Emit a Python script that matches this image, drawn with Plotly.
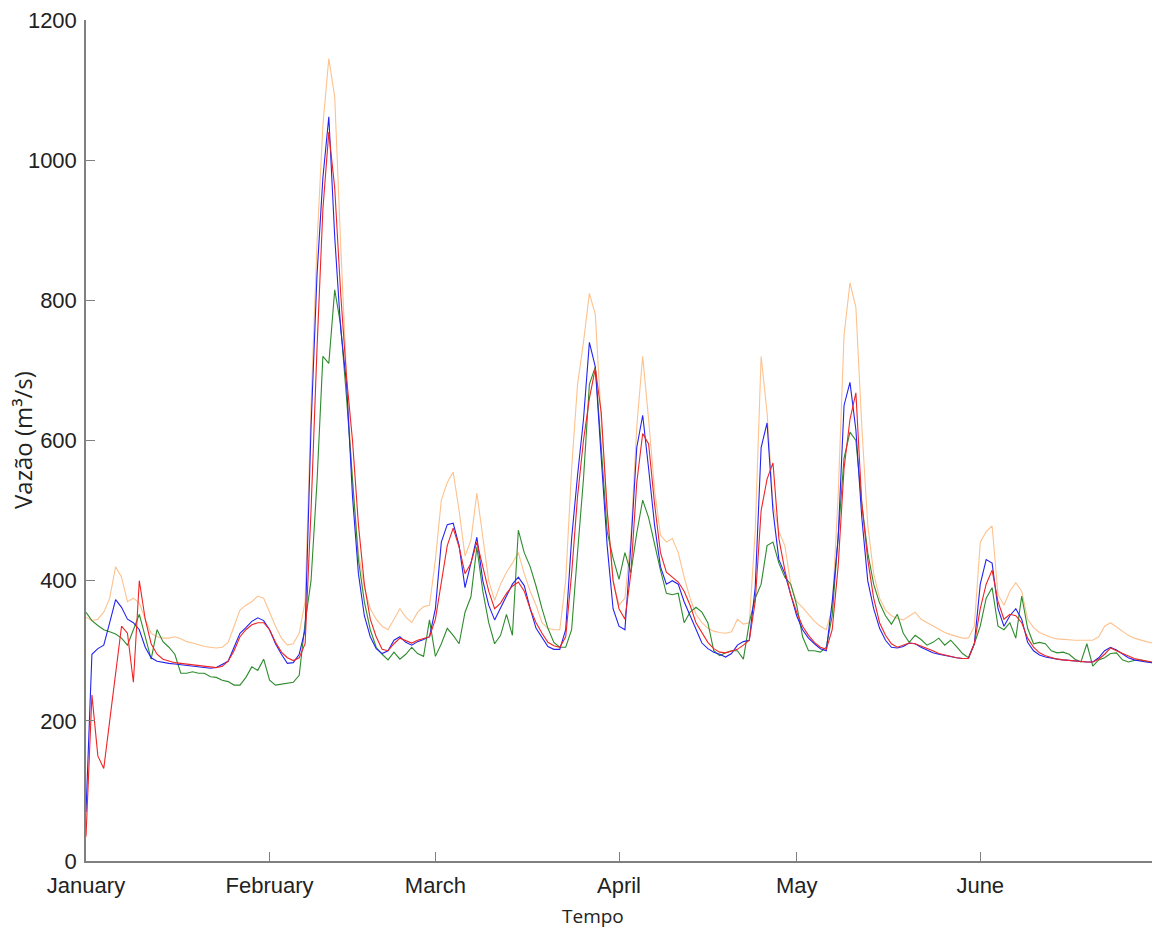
import pandas as pd
import plotly.graph_objects as go

start_date = "2013-01-01"
n_days = 181

month_ticks = ["2013-01-01", "2013-02-01", "2013-03-01", "2013-04-01", "2013-05-01", "2013-06-01"]
month_labels = ["January", "February", "March", "April", "May", "June"]
y_ticks = [0, 200, 400, 600, 800, 1000, 1200]

orange_vals = [
    348, 343, 345, 355, 375, 420, 405, 370, 375, 368, 345, 325, 320, 318, 318, 320, 317, 313, 311, 308,
    306, 305, 304, 305, 312, 335, 358, 365, 370, 378, 375, 355, 335, 318, 308, 310, 325, 370, 650, 880,
    1050, 1145, 1090, 880, 690, 540, 440, 390, 360, 345, 335, 330, 345, 360, 348, 340, 355, 363, 365, 430,
    515, 540, 555, 500, 435, 458, 525, 460, 400, 372, 395, 412, 425, 440, 410, 385, 365, 340, 332, 330,
    330, 400, 560, 680, 740, 810, 780, 630, 500, 400, 365, 375, 460, 620, 720, 630, 530, 465, 455, 460,
    440, 405, 375, 352, 340, 332, 328, 326, 325, 327, 345, 338, 340, 470, 720, 640, 510, 470, 450, 395,
    370, 362, 352, 342, 335, 330, 360, 520, 750, 825, 790, 620, 480, 410, 375, 358, 350, 346, 344, 350,
    355, 345, 340, 335, 330, 326, 323, 320, 318, 318, 335, 455, 470, 478, 380, 365, 385, 397, 385, 345,
    333, 326, 322, 319, 317, 316, 315, 315, 315, 315, 315, 320, 335, 340, 334, 327, 322, 318, 315, 313,
    311,
]

green_vals = [
    355, 343, 336, 330, 327, 324, 318, 308, 330, 352, 320, 288, 330, 313, 305, 295, 268, 268, 270, 268,
    268, 263, 262, 258, 256, 251, 251, 262, 277, 272, 288, 258, 251, 252, 254, 255, 265, 340, 400, 540,
    720, 710, 815, 765, 660, 540, 430, 370, 330, 305, 295, 287, 298, 288, 295, 305, 296, 292, 344, 292,
    310, 332, 322, 310, 355, 377, 448, 385, 340, 310, 322, 352, 322, 472, 440, 420, 392, 360, 332, 312,
    305, 305, 330, 440, 545, 680, 705, 590, 470, 432, 402, 440, 411, 468, 515, 490, 450, 415, 382, 380,
    382, 340, 355, 362, 355, 340, 300, 293, 297, 300, 300, 288, 340, 375, 395, 450, 455, 425, 405, 395,
    365, 320, 300, 300, 298, 305, 350, 470, 575, 612, 600, 510, 440, 395, 368, 350, 338, 352, 325, 312,
    322, 316, 308, 312, 318, 308, 315, 306, 296, 290, 310, 335, 375, 390, 335, 330, 340, 318, 378, 332,
    310, 312, 310, 300, 297, 298, 295, 288, 284, 310, 278, 287, 290, 296, 297, 287, 284, 286, 287, 285,
    283,
]

blue_vals = [
    70, 295, 303, 308, 340, 373, 362, 345, 340, 330, 305, 290, 285, 283, 282, 281, 280, 278, 277, 276,
    275, 275, 276, 280, 285, 305, 325, 333, 342, 347, 343, 330, 310, 295, 282, 283, 295, 330, 620, 835,
    975, 1062, 890, 760, 680, 520, 410, 350, 320, 303, 296, 300, 315, 320, 312, 308, 313, 316, 320, 360,
    455, 480, 482, 450, 390, 425, 462, 400, 365, 344, 360, 378, 395, 405, 393, 360, 332, 318, 306, 302,
    302, 330, 460, 550, 630, 740, 705, 575, 450, 360, 335, 330, 450, 590, 636, 560, 480, 420, 395, 400,
    395, 370, 350, 330, 311, 303, 298, 295, 291, 296, 308, 313, 315, 390, 590, 625, 500, 430, 410, 380,
    350, 330, 318, 310, 303, 300, 370, 460, 650, 683, 615, 490, 400, 360, 332, 315, 305, 304, 306, 311,
    310, 305, 301, 297, 295, 293, 291, 290, 289, 289, 310, 395, 430, 425, 360, 335, 350, 360, 345, 312,
    300, 294, 291, 289, 288, 287, 286, 285, 285, 284, 284, 290, 300, 305, 301, 295, 290, 287, 285, 284,
    283,
]

red_vals = [
    35, 237, 150, 132, 200, 270, 335, 325, 255, 400, 345, 310, 295, 288, 285, 283, 282, 281, 280, 279,
    278, 277, 276, 278, 285, 300, 320, 330, 337, 340, 340, 330, 312, 298, 290, 286, 290, 310, 500, 730,
    930, 1040, 960, 810, 690, 600, 480, 395, 345, 320, 302, 300, 310, 318, 314, 311, 315, 318, 320, 345,
    400, 450, 475, 448, 410, 425, 455, 420, 385, 360, 368, 382, 392, 398, 385, 360, 340, 325, 312, 307,
    305, 320, 410, 520, 600, 660, 703, 640, 500, 400, 360, 345, 410, 540, 610, 595, 510, 440, 412, 405,
    398, 385, 365, 340, 325, 312, 303, 298, 297, 299, 302, 308, 315, 370, 500, 545, 568, 460, 415, 380,
    355, 335, 322, 312, 305, 302, 330, 420, 560, 630, 668, 510, 430, 375, 340, 322, 310, 305, 308, 311,
    310, 307, 304, 300, 296, 294, 291, 290, 289, 289, 310, 360, 395, 415, 370, 345, 352, 350, 340, 318,
    305, 297, 293, 290, 288, 287, 286, 285, 285, 284, 284, 288, 295, 304, 300, 296, 292, 289, 287, 285,
    284,
]

dates = pd.date_range(start_date, periods=n_days, freq="D")

series = [
    ("orange", orange_vals, "#FDC28E"),
    ("green", green_vals, "#2E8B2E"),
    ("blue", blue_vals, "#2424F0"),
    ("red", red_vals, "#F02424"),
]

fig = go.Figure()
for name, vals, color in series:
    fig.add_trace(go.Scatter(x=dates, y=vals, mode="lines", name=name,
                             line=dict(color=color, width=1.1), showlegend=False))

axis_color = "#808080"
fig.update_layout(
    width=1155, height=931,
    margin=dict(l=86, r=3, t=20, b=70),
    paper_bgcolor="white", plot_bgcolor="white",
    showlegend=False,
    xaxis=dict(
        type="date",
        range=["2013-01-01", "2013-06-30"],
        tickvals=month_ticks, ticktext=month_labels,
        ticks="inside", ticklen=9, tickcolor=axis_color, tickwidth=1,
        showline=True, linecolor=axis_color, linewidth=1.5,
        showgrid=False, zeroline=False,
        ticklabelstandoff=4,
        tickfont=dict(family="Liberation Sans, Arial, sans-serif", size=22, color="#222222"),
    ),
    yaxis=dict(
        range=[0, 1200],
        tickvals=y_ticks,
        ticks="inside", ticklen=9, tickcolor=axis_color, tickwidth=1,
        showline=True, linecolor=axis_color, linewidth=1.5,
        showgrid=False, zeroline=False,
        ticklabelstandoff=3,
        tickfont=dict(family="Liberation Sans, Arial, sans-serif", size=22, color="#222222"),
    ),
)

plot_w = 1155 - 86 - 3
plot_h = 931 - 20 - 70
fig.add_annotation(text="Tempo", x=(593 - 86) / plot_w, y=(861 - 916) / plot_h,
                   xref="paper", yref="paper", showarrow=False,
                   xanchor="center", yanchor="middle",
                   font=dict(family="Open Sans, sans-serif", size=19, color="#222222"))
fig.add_annotation(text="Vazão (m³/s)", x=(22 - 86) / plot_w, y=(861 - 440) / plot_h,
                   xref="paper", yref="paper", showarrow=False, textangle=-90,
                   xanchor="center", yanchor="middle",
                   font=dict(family="Open Sans, sans-serif", size=24, color="#222222"))

fig.write_html("out.html")
